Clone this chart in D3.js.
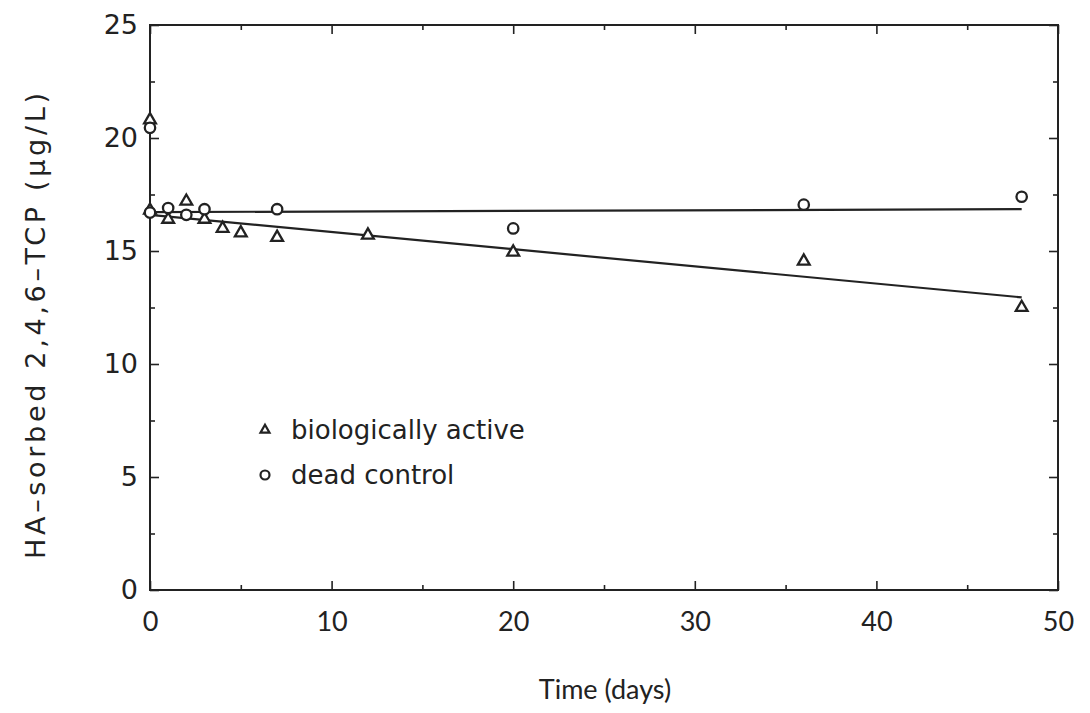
<!DOCTYPE html>
<html>
<head>
<meta charset="utf-8">
<script src="https://cdn.jsdelivr.net/npm/d3@7"></script>
<style>
  html, body { margin: 0; padding: 0; background: #fff; }
  svg { display: block; }
</style>
</head>
<body>
<svg id="chart" width="1090" height="713"></svg>
<script>
// ---- data ----
const activeDays   = [0, 0, 1, 2, 3, 4, 5, 7, 12, 20, 36, 48];
const activeValues = [20.8, 16.8, 16.4, 17.2, 16.4, 16.0, 15.8, 15.6, 15.7, 14.95, 14.55, 12.5];
const deadDays     = [0, 0, 1, 2, 3, 7, 20, 36, 48];
const deadValues   = [20.45, 16.7, 16.9, 16.6, 16.85, 16.85, 16.0, 17.05, 17.4];
const activeFitX   = [0, 48];
const activeFitY   = [16.6, 12.95];
const deadFitX     = [0, 48];
const deadFitY     = [16.72, 16.85];
const xTicks = [0, 10, 20, 30, 40, 50];
const yTicks = [0, 5, 10, 15, 20, 25];
const xMinor = [5, 15, 25, 35, 45];
const yMinor = [2.5, 7.5, 12.5, 17.5, 22.5];
const seriesNames = ["biologically active", "dead control"];
const xTitle = "Time (days)";
const yTitle = "HA\u2013sorbed 2,4,6\u2013TCP (\u03BCg/L)";

const svg = d3.select("#chart");
const L = 150, R = 1058, T = 25, B = 590;
const x = d3.scaleLinear().domain([0, 50]).range([L, R]);
const y = d3.scaleLinear().domain([0, 25]).range([B, T]);
const ink = "#222";
const wide = "'DejaVu Sans', Verdana, sans-serif";
const narrow = "Lato, sans-serif";

// frame
svg.append("rect").attr("x", L).attr("y", T).attr("width", R - L).attr("height", B - T)
  .attr("fill", "none").attr("stroke", ink).attr("stroke-width", 2);

function tickAxis(axisGen, transform) {
  const g = svg.append("g").attr("transform", transform).call(axisGen);
  g.select(".domain").remove();
  g.selectAll(".tick line").attr("stroke", ink).attr("stroke-width", 1.6);
  return g;
}
// bottom
const gb = tickAxis(d3.axisBottom(x).tickValues(xTicks).tickSizeInner(-9).tickSizeOuter(0).tickPadding(22).tickFormat(d3.format("d")), `translate(0,${B})`);
gb.selectAll("text").style("font-size", "27px").style("fill", ink).style("font-family", narrow);
tickAxis(d3.axisBottom(x).tickValues(xMinor).tickSizeInner(-5).tickSizeOuter(0).tickFormat(""), `translate(0,${B})`);
// top
tickAxis(d3.axisTop(x).tickValues(xTicks).tickSizeInner(-9).tickSizeOuter(0).tickFormat(""), `translate(0,${T})`);
tickAxis(d3.axisTop(x).tickValues(xMinor).tickSizeInner(-5).tickSizeOuter(0).tickFormat(""), `translate(0,${T})`);
// left
const gl = tickAxis(d3.axisLeft(y).tickValues(yTicks).tickSizeInner(-9).tickSizeOuter(0).tickPadding(12).tickFormat(d3.format("d")), `translate(${L},0)`);
gl.selectAll("text").style("font-size", "27px").style("fill", ink).style("font-family", wide);
tickAxis(d3.axisLeft(y).tickValues(yMinor).tickSizeInner(-5).tickSizeOuter(0).tickFormat(""), `translate(${L},0)`);
// right
tickAxis(d3.axisRight(y).tickValues(yTicks).tickSizeInner(-9).tickSizeOuter(0).tickFormat(""), `translate(${R},0)`);
tickAxis(d3.axisRight(y).tickValues(yMinor).tickSizeInner(-5).tickSizeOuter(0).tickFormat(""), `translate(${R},0)`);

// fit lines
const line = d3.line().x(d => x(d[0])).y(d => y(d[1]));
svg.append("path").datum(d3.zip(activeFitX, activeFitY)).attr("d", line)
  .attr("fill", "none").attr("stroke", ink).attr("stroke-width", 2.2);
svg.append("path").datum(d3.zip(deadFitX, deadFitY)).attr("d", line)
  .attr("fill", "none").attr("stroke", ink).attr("stroke-width", 2.2);

// markers
const tri = d3.symbol().type(d3.symbolTriangle).size(60);
svg.append("g").selectAll("path").data(d3.zip(activeDays, activeValues)).join("path")
  .attr("d", tri).attr("transform", d => `translate(${x(d[0])},${y(d[1])})`)
  .attr("fill", "#fff").attr("stroke", ink).attr("stroke-width", 2.3);
svg.append("g").selectAll("circle").data(d3.zip(deadDays, deadValues)).join("circle")
  .attr("cx", d => x(d[0])).attr("cy", d => y(d[1])).attr("r", 5.2)
  .attr("fill", "#fff").attr("stroke", ink).attr("stroke-width", 2.3);

// legend
const legY = [430, 475];
svg.append("path").attr("d", d3.symbol().type(d3.symbolTriangle).size(35)())
  .attr("transform", `translate(265,${legY[0]})`).attr("fill", "#fff").attr("stroke", ink).attr("stroke-width", 2.2);
svg.append("circle").attr("cx", 265).attr("cy", legY[1]).attr("r", 4.5)
  .attr("fill", "#fff").attr("stroke", ink).attr("stroke-width", 2.2);
seriesNames.forEach((n, i) => {
  svg.append("text").attr("x", 291).attr("y", legY[i]).attr("dy", "0.35em")
    .style("font-size", "26px").style("font-family", wide).style("fill", ink).text(n);
});

// titles
svg.append("text").attr("x", 605).attr("y", 690).attr("dy", "0.35em")
  .attr("text-anchor", "middle").style("font-size", "27px").style("font-family", narrow).style("fill", ink).text(xTitle);
svg.append("text").attr("transform", `translate(36,326) rotate(-90)`)
  .attr("dy", "0.35em").attr("text-anchor", "middle")
  .style("font-size", "27px").style("font-family", wide).style("fill", ink)
  .attr("textLength", 466).attr("lengthAdjust", "spacing").text(yTitle);
</script>
</body>
</html>
